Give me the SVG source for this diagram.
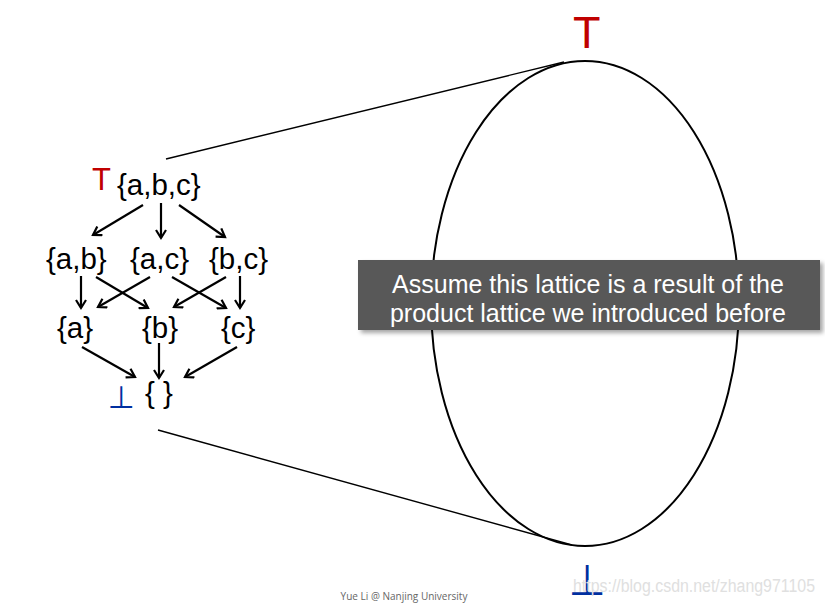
<svg xmlns="http://www.w3.org/2000/svg" width="825" height="605" viewBox="0 0 825 605">
<defs>
<marker id="ah" markerWidth="12" markerHeight="12" refX="9" refY="6" orient="auto" markerUnits="userSpaceOnUse">
<polyline points="1,1 9,6 1,11" fill="none" stroke="#000" stroke-width="2.2"/>
</marker>
<filter id="sh" x="-5%" y="-10%" width="115%" height="130%">
<feDropShadow dx="3" dy="3" stdDeviation="2" flood-color="#000" flood-opacity="0.35"/>
</filter>
</defs>
<style>
text{font-family:"Liberation Sans",Arial,sans-serif}
.set{font-size:29.5px;fill:#000}
.arr{stroke:#000;stroke-width:2.2;fill:none;marker-end:url(#ah)}
.cap{font-size:25px;fill:#fff;text-anchor:middle}
.bot{font-family:"DejaVu Sans",sans-serif;fill:#002fa0;text-anchor:middle}
</style>
<rect width="825" height="605" fill="#fff"/>
<g id="connectors">
<line class="arr" x1="143" y1="205" x2="93" y2="235"/>
<line class="arr" x1="161" y1="203" x2="161" y2="238"/>
<line class="arr" x1="179" y1="205" x2="225" y2="237"/>
<line class="arr" x1="81" y1="276" x2="81" y2="308"/>
<line class="arr" x1="96" y1="277" x2="148" y2="308"/>
<line class="arr" x1="150" y1="277" x2="98" y2="307"/>
<line class="arr" x1="172" y1="277" x2="226" y2="308"/>
<line class="arr" x1="226" y1="277" x2="174" y2="307"/>
<line class="arr" x1="240" y1="276" x2="240" y2="308"/>
<line class="arr" x1="82" y1="347" x2="135" y2="377"/>
<line class="arr" x1="159" y1="343" x2="159" y2="378"/>
<line class="arr" x1="237" y1="347" x2="185" y2="377"/>
<line x1="166" y1="159" x2="564" y2="62" stroke="#000" stroke-width="1.4"/>
<line x1="158" y1="430" x2="572" y2="545" stroke="#000" stroke-width="1.4"/>
</g>
<g id="top-left">
<text x="92" y="190" font-size="31" fill="#c00000">T</text>
<text class="set" x="117" y="195">{a,b,c}</text>
</g>
<g id="ab"><text class="set" x="46" y="269">{a,b}</text></g>
<g id="ac"><text class="set" x="130" y="269">{a,c}</text></g>
<g id="bc"><text class="set" x="209" y="269">{b,c}</text></g>
<g id="a"><text class="set" x="57" y="338">{a}</text></g>
<g id="b"><text class="set" x="142" y="338">{b}</text></g>
<g id="c"><text class="set" x="221" y="338">{c}</text></g>
<g id="bottom-left">
<text class="bot" x="121" y="408" font-size="31">⊥</text>
<text class="set" x="145" y="403">{ }</text>
</g>
<g id="lattice">
<ellipse cx="585" cy="303.5" rx="154" ry="242.5" fill="none" stroke="#000" stroke-width="2"/>
<text x="573" y="48" font-size="45" fill="#c00000">T</text>
<text class="bot" x="587" y="595" font-size="43">⊥</text>
</g>
<g id="note">
<rect x="358" y="260" width="462" height="70" fill="#595959" filter="url(#sh)"/>
<text class="cap" x="588" y="293">Assume this lattice is a result of the</text>
<text class="cap" x="588" y="322">product lattice we introduced before</text>
</g>
<text x="573" y="592" font-size="18" fill="#e0e0e0" textLength="242" lengthAdjust="spacingAndGlyphs">https://blog.csdn.net/zhang971105</text>
<text x="404" y="600" font-size="10" fill="#666" text-anchor="middle" style="font-family:'Open Sans',sans-serif">Yue Li @ Nanjing University</text>
</svg>
